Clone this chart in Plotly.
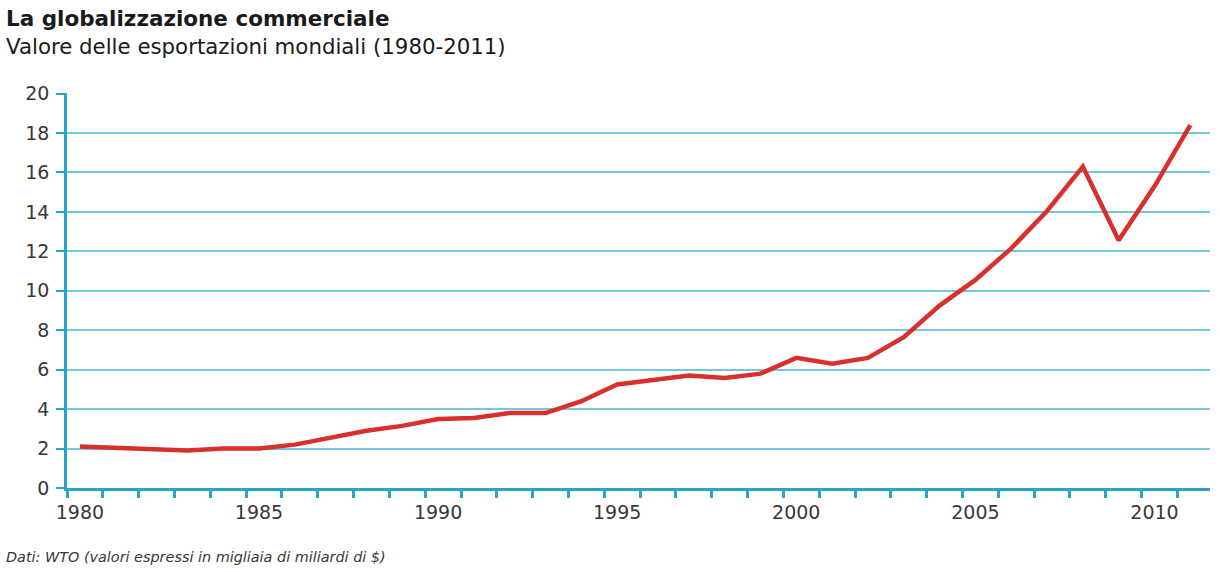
import plotly.graph_objects as go

years = list(range(1980, 2012))
values = [2.1, 2.05, 1.95, 1.9, 2.0, 2.0, 2.2, 2.55, 2.9, 3.15, 3.5, 3.55, 3.8, 3.8, 4.4, 5.25,
          5.5, 5.7, 5.58, 5.8, 6.6, 6.3, 6.6, 7.65, 9.25, 10.55, 12.15, 14.05, 16.3, 12.56, 15.3, 18.4]
x_tickvals = [1980, 1985, 1990, 1995, 2000, 2005, 2010]
y_tickvals = list(range(0, 21, 2))

title = "La globalizzazione commerciale"
subtitle = "Valore delle esportazioni mondiali (1980-2011)"
source = "Dati: WTO (valori espressi in migliaia di miliardi di $)"

AXIS = "#2aa3c8"
GRID = "#74c7de"
TXT = "#383838"
FONT = "DejaVu Sans"

fig = go.Figure()
fig.add_trace(go.Scatter(x=years, y=values, mode="lines",
                         line=dict(color="#d8302d", width=4.5), hoverinfo="x+y"))

fig.update_layout(
    width=1220, height=572,
    margin=dict(l=67, r=10, t=93, b=84),
    paper_bgcolor="white", plot_bgcolor="white",
    showlegend=False,
    font=dict(family=FONT, color=TXT, size=16),
    xaxis=dict(range=[1979.64, 2011.55], tickvals=x_tickvals, showgrid=False,
               showline=True, linecolor=AXIS, linewidth=2.5, zeroline=False,
               ticks="", ticklabelstandoff=5,
               minor=dict(dtick=1, tick0=1979.64, ticks="outside", ticklen=7, tickwidth=2.5, tickcolor=AXIS),
               tickfont=dict(size=19, color=TXT, family=FONT)),
    yaxis=dict(range=[0, 20.03], tickvals=y_tickvals, showgrid=True, gridcolor=GRID, gridwidth=1.5,
               showline=True, linecolor=AXIS, linewidth=2.5, zeroline=False,
               ticks="outside", tickcolor=AXIS, ticklen=8, tickwidth=2,
               ticklabelstandoff=3,
               tickfont=dict(size=19, color=TXT, family=FONT)),
)

fig.add_annotation(text="<b>" + title + "</b>", xref="paper", yref="paper", x=0, y=1,
                   xanchor="left", yanchor="middle", xshift=-63, yshift=75, showarrow=False,
                   font=dict(size=21.5, color="#1a1a1a", family=FONT))
fig.add_annotation(text=subtitle, xref="paper", yref="paper", x=0, y=1,
                   xanchor="left", yanchor="middle", xshift=-63, yshift=47, showarrow=False,
                   font=dict(size=21.3, color="#1a1a1a", family=FONT))
fig.add_annotation(text="<i>" + source + "</i>", xref="paper", yref="paper", x=0, y=0,
                   xanchor="left", yanchor="middle", xshift=-63, yshift=-69, showarrow=False,
                   font=dict(size=14.4, color=TXT, family=FONT))

fig.write_html("out.html")
